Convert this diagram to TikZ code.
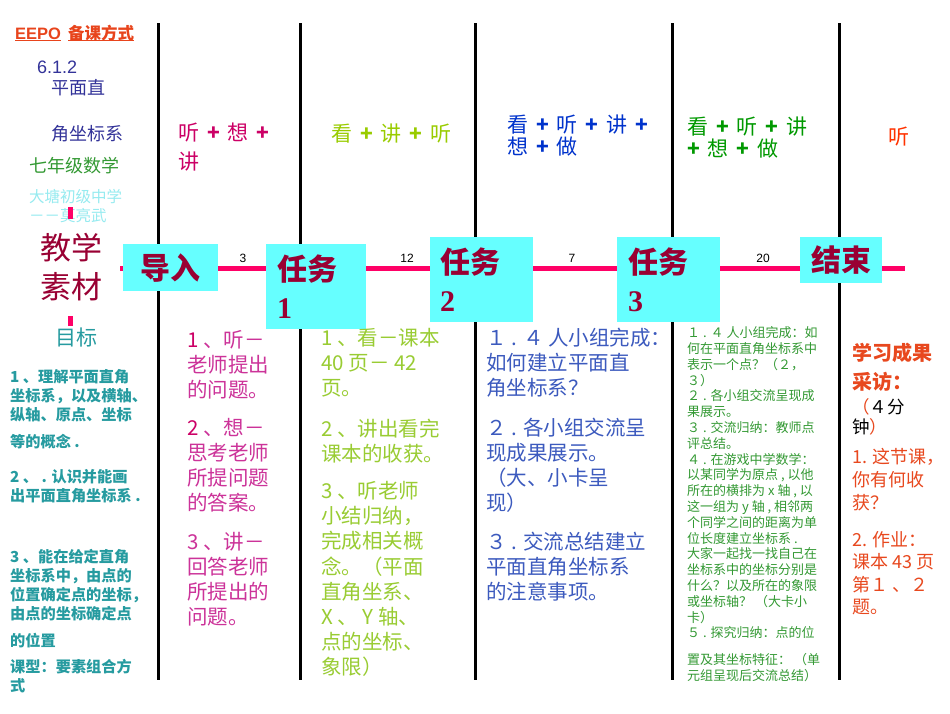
\documentclass[tikz,border=0pt]{standalone}
\usepackage{fontspec}
\setmainfont{Noto Sans CJK SC}
\newfontfamily\serifnum{Liberation Serif}
\newfontfamily\arial{Liberation Sans}
\definecolor{eepo}{RGB}{232,68,28}
\definecolor{dkblue}{RGB}{51,51,153}
\definecolor{grnseven}{RGB}{51,153,51}
\definecolor{ltcyan}{RGB}{150,235,240}
\definecolor{dkred}{RGB}{153,0,51}
\definecolor{tealc}{RGB}{38,155,160}
\definecolor{pinkc}{RGB}{255,0,102}
\definecolor{boxc}{RGB}{102,255,255}
\definecolor{boxt}{RGB}{153,0,51}
\definecolor{hone}{RGB}{204,0,102}
\definecolor{cone}{RGB}{204,51,153}
\definecolor{htwo}{RGB}{153,204,0}
\definecolor{ctwo}{RGB}{153,204,51}
\definecolor{hthree}{RGB}{0,51,204}
\definecolor{cthree}{RGB}{60,90,190}
\definecolor{hfour}{RGB}{0,153,0}
\definecolor{cfour}{RGB}{51,153,51}
\definecolor{hfive}{RGB}{255,51,0}
\definecolor{cfive}{RGB}{232,72,30}
\newcommand\pls{\hspace{8pt}{\bfseries +}\hspace{8pt}}
\begin{document}
\begin{tikzpicture}[x=1pt,y=-1pt,
  vline/.style={line width=3pt,draw=black},
  pline/.style={line width=5pt,draw=pinkc},
  tbox/.style={rectangle,fill=boxc,inner ysep=0pt,text=boxt,font=\fontsize{30}{38}\selectfont\bfseries,anchor=north west},
  tx/.style={inner sep=0pt,anchor=north west,align=left},
  tw/.style={inner sep=0pt,anchor=west},
  num/.style={inner sep=0pt,font=\arial\fontsize{12}{12}\selectfont,text=black}]
\fill[white] (0,0) rectangle (950,713);
\useasboundingbox (0,0) rectangle (950,713);
% vertical column rules
\foreach \i/\x in {1/158,2/300,3/475,4/672,5/839}{
  \coordinate (vt\i) at (\x,23);
  \coordinate (vb\i) at (\x,680);
  \draw[vline] (vt\i) -- (vb\i);
}
% time line
\coordinate (ls) at (120,268);
\coordinate (le) at (905,268);
\draw[pline] (ls) -- (le);
% boxes
\node[tbox,minimum width=95pt,minimum height=47pt,inner xsep=0pt,align=center] (b0) at (123,244) {导入};
\node[tbox,minimum height=85pt,inner xsep=11pt,text width=78pt,align=left] (b1) at (266,244) {任务\\{\serifnum 1}};
\node[tbox,minimum height=85pt,inner xsep=10pt,text width=83pt,align=left] (b2) at (430,237) {任务\\{\serifnum 2}};
\node[tbox,minimum height=85pt,inner xsep=11pt,text width=81pt,align=left] (b3) at (617,237) {任务\\{\serifnum 3}};
\node[tbox,minimum width=82pt,minimum height=46pt,inner xsep=0pt,align=center] (b4) at (800,237) {结束};
% minutes
\node[num] (n1) at (243,258) {3};
\node[num] (n2) at (407,258) {12};
\node[num] (n3) at (572,258) {7};
\node[num] (n4) at (763,258) {20};
% left column
\node[inner sep=0pt,anchor=base west,font=\arial\bfseries\fontsize{16.5}{18}\selectfont,text=eepo] (ee) at (15,39) {EEPO};
\node[inner sep=0pt,anchor=base west,font=\bfseries\fontsize{16.5}{18}\selectfont,text=eepo] (bk) at (68,39) {备课方式};
\draw[eepo,line width=1.2pt] ([yshift=-1.8pt]ee.base west) -- ([yshift=-1.8pt]ee.base east);
\draw[eepo,line width=1.2pt] ([yshift=-1.8pt]bk.base west) -- ([yshift=-1.8pt]bk.base east);
\node[tw,font=\arial\fontsize{18}{18}\selectfont,text=dkblue] (tnum) at (37,67) {6.1.2};
\node[tw,font=\fontsize{18}{18}\selectfont,text=dkblue] (tpm) at (51,88) {平面直};
\node[tw,font=\fontsize{18}{18}\selectfont,text=dkblue] (tjz) at (51,134) {角坐标系};
\node[tw,font=\fontsize{18}{18}\selectfont,text=grnseven] (tgr) at (29,166) {七年级数学};
\node[tw,font=\fontsize{15.5}{15.5}\selectfont,text=ltcyan] (tsch) at (29,197) {大塘初级中学};
\node[tw,font=\fontsize{15.5}{15.5}\selectfont,text=ltcyan] (tau) at (29,216) {－－莫亮武};
\coordinate (pa) at (70.5,207);
\coordinate (pb) at (70.5,219);
\coordinate (pc) at (70.5,316);
\coordinate (pd) at (70.5,326);
\draw[pline] (pa) -- (pb);
\draw[pline] (pc) -- (pd);
\node[tx,font=\fontsize{31}{39}\selectfont,text=dkred] (jx) at (40,232.5) {教学\\素材};
\node[tw,font=\fontsize{21}{21}\selectfont,text=tealc] (mb) at (55,338) {目标};
\node[tx,font=\bfseries\fontsize{15.2}{19}\selectfont,text=tealc] (goal) at (10,369.5) {1 、理解平面直角\\坐标系，以及横轴、\\纵轴、原点、坐标\\[8pt]等的概念 .\\[16pt]2 、 . 认识并能画\\出平面直角坐标系 .\\[42pt]3 、能在给定直角\\坐标系中，由点的\\位置确定点的坐标，\\由点的坐标确定点\\[8pt]的位置\\[7pt]课型：要素组合方\\式};
% headers
\node[tx,font=\fontsize{21}{29}\selectfont,text=hone] (h1) at (178,122.5) {听\pls 想\pls\\讲};
\node[tw,font=\fontsize{21}{21}\selectfont,text=htwo] (h2) at (331,134) {看\pls 讲\pls 听};
\node[tx,font=\fontsize{21}{22}\selectfont,text=hthree] (h3) at (507,114.5) {看\pls 听\pls 讲\pls\\想\pls 做};
\node[tx,font=\fontsize{21}{22}\selectfont,text=hfour] (h4) at (687,116.5) {看\pls 听\pls 讲\\{\bfseries +}\hspace{8pt}想\pls 做};
\node[tw,font=\fontsize{21}{21}\selectfont,text=hfive] (h5) at (888,137) {听};
% column texts
\node[tx,font=\fontsize{20.5}{25}\selectfont,text=cone] (c1) at (187,330) {\textcolor{hone}{1} 、听－\\老师提出\\的问题。\\[13pt]\textcolor{hone}{2} 、想－\\思考老师\\所提问题\\的答案。\\[14pt] 3 、讲－\\回答老师\\所提出的\\问题。};
\node[tx,font=\fontsize{20.5}{25.2}\selectfont,text=ctwo] (c2) at (321,328) {1 、看－课本\\40 页－ 42\\页。\\[15pt]2 、讲出看完\\课本的收获。\\[12pt] 3 、听老师\\小结归纳，\\完成相关概\\念。（平面\\直角坐系、\\X 、 Y 轴、\\点的坐标、\\象限）};
\node[tx,font=\fontsize{20.5}{25}\selectfont,text=cthree] (c3) at (486,328) {１ . ４ 人小组完成：\\如何建立平面直\\角坐标系？\\[15pt]２ . 各小组交流呈\\现成果展示。\\（大、小卡呈\\现）\\[14pt]３ . 交流总结建立\\平面直角坐标系\\的注意事项。};
\node[tx,font=\fontsize{13}{15.8}\selectfont,text=cfour] (c4) at (687,326.5) {１ . ４ 人小组完成：如\\何在平面直角坐标系中\\表示一个点？（２，\\３）\\２ . 各小组交流呈现成\\果展示。\\３ . 交流归纳：教师点\\评总结。\\４ . 在游戏中学数学：\\以某同学为原点 , 以他\\所在的横排为 x 轴 , 以\\这一组为 y 轴 , 相邻两\\个同学之间的距离为单\\位长度建立坐标系 .\\大家一起找一找自己在\\坐标系中的坐标分别是\\什么？以及所在的象限\\或坐标轴？ （大卡小\\卡）\\５ . 探究归纳：点的位\\[11pt]置及其坐标特征：  （单\\元组呈现后交流总结）};
\node[tx,font=\bfseries\fontsize{20}{29}\selectfont,text=cfive] (c5a) at (852,343) {学习成果\\采访：};
\node[tx,font=\fontsize{17.5}{20}\selectfont,text=black] (c5b) at (852,398.5) {\textcolor{cfive}{（}４分\\钟\textcolor{cfive}{）}};
\node[tx,font=\fontsize{18}{23}\selectfont,text=cfive] (c5c) at (852,448) {1. 这节课，\\你有何收\\获？};
\node[tx,font=\fontsize{18}{22.5}\selectfont,text=cfive] (c5d) at (852,531) {2. 作业：\\课本 43 页\\第１ 、２\\题。};
\end{tikzpicture}
\end{document}
